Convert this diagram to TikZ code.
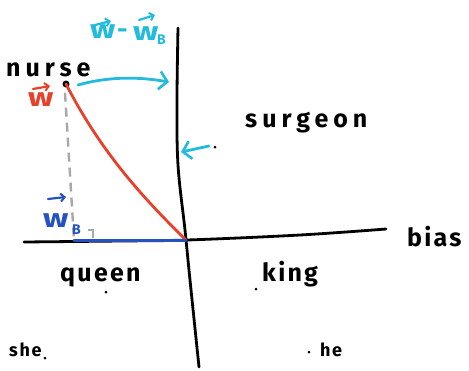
\documentclass[tikz,border=0pt]{standalone}
\usepackage{fontspec}
\setmainfont{Fira Sans}
\newfontfamily\handfont[LetterSpace=9]{Fira Sans}
\newfontfamily\widefont[LetterSpace=20]{Fira Sans}
\usetikzlibrary{arrows.meta}
\definecolor{myred}{HTML}{E8402A}
\definecolor{mycyan}{HTML}{22BBDD}
\definecolor{myblue}{HTML}{2452C0}
\definecolor{mygray}{HTML}{A8A8A8}
\newcommand{\wideW}{\scalebox{1.3}[1]{w}}
\begin{document}
\begin{tikzpicture}[x=1pt,y=-1pt,
  word/.style={anchor=base west,inner sep=0pt,font=\handfont\bfseries\fontsize{25}{28}\selectfont},
  wideword/.style={anchor=base west,inner sep=0pt,font=\widefont\bfseries\fontsize{25}{28}\selectfont},
  smallword/.style={anchor=base west,inner sep=0pt,font=\handfont\bfseries\fontsize{18}{21}\selectfont},
  vlabel/.style={anchor=base west,inner sep=0pt,font=\bfseries\fontsize{26}{28}\selectfont},
  sublabel/.style={anchor=base west,inner sep=0pt,font=\bfseries\fontsize{14}{16}\selectfont},
  axis/.style={line width=2.8pt,line cap=round,black},
  pt/.style={circle,fill=black,inner sep=0pt,minimum size=3pt},
  barb/.style={-{Straight Barb[length=8pt,width=18pt,line width=2.6pt]}},
  vecarrow/.style={line width=2.2pt,line cap=round,-{Straight Barb[length=4pt,width=8pt,line width=2pt]}}
]
\useasboundingbox[fill=white] (0,0) rectangle (469,370);
% axes
\draw[axis] plot[smooth,tension=0.6] coordinates {(178,28) (177,100) (178,165) (185,230) (190,280) (199,367)};
\draw[axis] plot[smooth,tension=0.6] coordinates {(24,242) (120,241) (187,240) (300,235) (386,229)};
% points
\node[circle,fill=black,inner sep=0pt,minimum size=7pt] (nurse) at (66,84) {};
\node[pt] (surgeonpt) at (215,147) {};
\node[pt] (queenpt) at (106,292) {};
\node[pt] (kingpt) at (256,289) {};
\node[pt] (shept) at (45,358) {};
\node[pt] (hept) at (309,352) {};
\coordinate (origin) at (186,240);
\coordinate (foot) at (74,240);
% gray dashed projection
\draw[mygray,line width=2.4pt,dash pattern=on 9pt off 6pt] (nurse.south) ++(-1,5) -- (foot);
\draw[mygray,line width=2.2pt] (88,230) -- (93,230) -- (93,238);
% red vector
\draw[myred,line width=2.8pt,line cap=round] (nurse.center) .. controls (100,150) and (140,195) .. (origin);
% blue projection
\draw[myblue,line width=3pt,line cap=round] (foot) -- (origin);
% cyan arrows
\coordinate (cstart) at (78,85);
\coordinate (cend) at (169,82);
\draw[mycyan,line width=2.8pt,line cap=round,barb] (cstart) .. controls (110,76) and (140,77) .. (cend);
\coordinate (sa) at (209,146);
\coordinate (sb) at (181,152);
\draw[mycyan,line width=2.8pt,line cap=round,barb] (sa) -- (sb);
% words
\node[wideword] (tnurse) at (6,76) {nurse};
\node[wideword] (tsurgeon) at (245,127) {surgeon};
\node[word] (tbias) at (407,246) {bias};
\node[word] (tqueen) at (60,281) {queen};
\node[word] (tking) at (262,281) {king};
\node[smallword] (tshe) at (9,356) {she};
\node[smallword] (the) at (320,356) {he};
% vector labels
\node[vlabel,text=myred] (lw) at (28,106) {\wideW};
\draw[myred,vecarrow] (33,89) -- (50,86);
\node[vlabel,text=myblue] (lwb) at (43,227) {\wideW};
\node[sublabel,text=myblue] (lwbB) at (72,234) {B};
\draw[myblue,vecarrow] (48,199) -- (66,197);
\node[vlabel,text=mycyan] (ldw) at (90,38) {\wideW};
\node[vlabel,text=mycyan] (ldm) at (117,38) {-};
\node[vlabel,text=mycyan] (ldw2) at (133,40) {\wideW};
\node[sublabel,text=mycyan] (ldB) at (157,44) {B};
\draw[mycyan,vecarrow] (95,25) -- (111,21);
\draw[mycyan,vecarrow] (139,20) -- (155,15);
\end{tikzpicture}
\end{document}
